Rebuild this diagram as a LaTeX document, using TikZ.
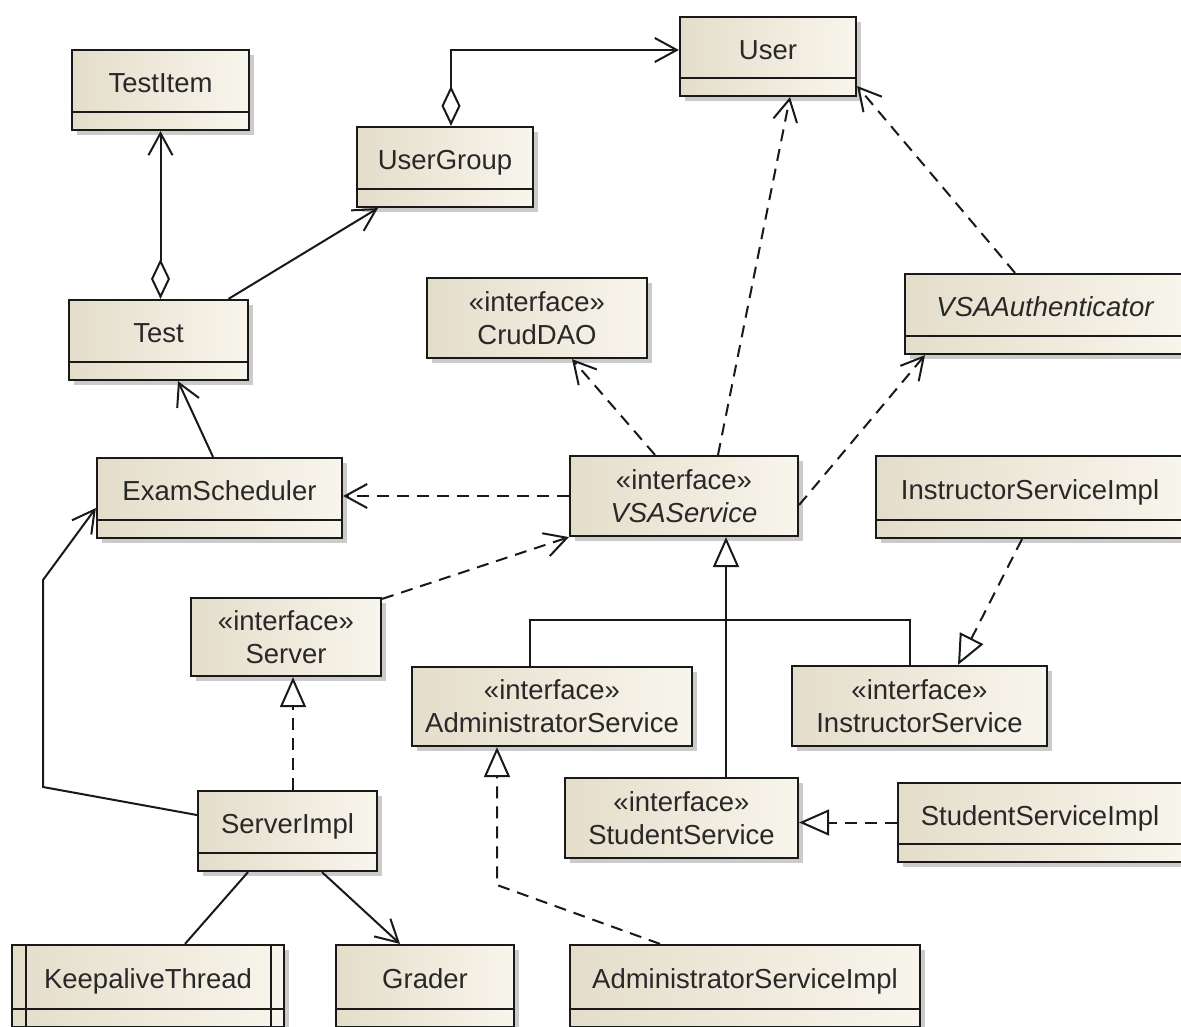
\documentclass[tikz,border=0pt]{standalone}
\usepackage{fontspec}
\setmainfont{Liberation Sans}
\usetikzlibrary{arrows.meta,shadows,calc}
\definecolor{clsL}{RGB}{228,221,202}
\definecolor{clsR}{RGB}{248,245,236}
\definecolor{ink}{RGB}{25,25,25}
\definecolor{txt}{RGB}{40,40,40}
\tikzset{
  cls/.style={draw=ink, line width=2.2pt, left color=clsL, right color=clsR,
    drop shadow={shadow xshift=5pt, shadow yshift=-5pt, fill=black!45, opacity=0.45},
    inner sep=0pt, text=txt, font=\fontsize{27.5pt}{33pt}\selectfont, align=center},
  cmp/.style={cls, text height=22pt, text depth=17pt},
  sepline/.style={draw=ink, line width=2.2pt},
  conn/.style={draw=ink, line width=2pt},
  assoc/.style={conn, -{Straight Barb[length=22pt,width=24pt]}},
  dep/.style={assoc, dash pattern=on 12pt off 8pt},
  aggr/.style={conn, {Diamond[length=40pt,width=19pt,fill=white]}-{Straight Barb[length=22pt,width=24pt]}},
  gen/.style={conn, -{Triangle[length=30pt,width=26pt,fill=white]}},
  real/.style={gen, dash pattern=on 12pt off 8pt},
}
\begin{document}
\begin{tikzpicture}[x=1pt,y=-1pt]
\fill[white] (0,0) rectangle (1181,1026);
\path[use as bounding box] (0,0) rectangle (1181,1026);
\clip (0,0) rectangle (1181,1026);

% classes
\node[cmp, minimum width=176pt, minimum height=79pt] (user) at (768,56.5) {User};
\node[cmp, minimum width=177pt, minimum height=80pt] (testitem) at (160.5,90) {TestItem};
\node[cmp, minimum width=176pt, minimum height=80pt] (ug) at (445,167) {UserGroup};
\node[cmp, minimum width=179pt, minimum height=80pt] (test) at (158.5,340) {Test};
\node[cls, minimum width=220pt, minimum height=80pt] (crud) at (537,318) {«interface»\\CrudDAO};
\node[cmp, minimum width=280pt, minimum height=80pt] (auth) at (1045,314) {\itshape VSAAuthenticator};
\node[cmp, minimum width=245pt, minimum height=80pt] (es) at (219.5,498) {ExamScheduler};
\node[cls, minimum width=228pt, minimum height=80pt] (vsa) at (684,496) {«interface»\\\itshape VSAService};
\node[cmp, minimum width=308pt, minimum height=82pt] (isi) at (1030,497) {InstructorServiceImpl};
\node[cls, minimum width=190pt, minimum height=78pt] (server) at (286,637) {«interface»\\Server};
\node[cls, minimum width=280pt, minimum height=79pt] (adm) at (552,706.5) {«interface»\\AdministratorService};
\node[cls, minimum width=255pt, minimum height=80pt] (inst) at (919.5,706) {«interface»\\InstructorService};
\node[cls, minimum width=233pt, minimum height=80pt] (ss) at (681.5,818) {«interface»\\StudentService};
\node[cmp, minimum width=284pt, minimum height=79pt] (ssi) at (1040,822.5) {StudentServiceImpl};
\node[cmp, minimum width=179pt, minimum height=80pt] (si) at (287.5,831) {ServerImpl};
\node[cmp, minimum width=272pt, minimum height=82pt] (kt) at (148,986) {KeepaliveThread};
\node[cmp, minimum width=178pt, minimum height=82pt] (grader) at (425,986) {Grader};
\node[cmp, minimum width=350pt, minimum height=82pt] (asi) at (745,986) {AdministratorServiceImpl};

% compartment separators
\foreach \n in {user,testitem,ug,test,auth,es,isi,ssi,si,kt,grader,asi}
  \draw[sepline] ([yshift=19pt]\n.south west) -- ([yshift=19pt]\n.south east);
% active class side bars
\draw[sepline] ([xshift=15pt]kt.north west) -- ([xshift=15pt]kt.south west);
\draw[sepline] ([xshift=-14pt]kt.north east) -- ([xshift=-14pt]kt.south east);

% connectors
\draw[aggr] ([xshift=6pt]ug.north) |- ([yshift=6.5pt]user.west);
\draw[aggr] (testitem.south |- test.north) -- (testitem.south);
\draw[assoc] ([xshift=70pt]test.north) -- ([xshift=-67pt]ug.south);
\draw[assoc] ([xshift=-6.5pt]es.north) -- ([xshift=19.5pt]test.south);
\draw[dep] (vsa.west) -- (es.east |- vsa.west);
\draw[dep] ([xshift=-29pt]vsa.north) -- ([xshift=35pt]crud.south);
\draw[dep] ([xshift=34pt]vsa.north) -- ([xshift=22pt]user.south);
\draw[dep] ([yshift=-9pt]vsa.east) -- ([xshift=-120pt]auth.south);
\draw[dep] ([xshift=-30pt]auth.north) -- ([yshift=-29.5pt]user.east);
\draw[dep] ([yshift=-2pt]server.north east) -- (vsa.south west);
\draw[real] ([xshift=5.5pt]si.north) -- ([xshift=7pt]server.south);

\coordinate (l1) at (43,787);
\coordinate (l2) at (43,580);
\draw[assoc] ([yshift=16pt]si.west) -- (l1) -- (l2) -- ([yshift=-10pt]es.west);

\coordinate (bus) at (726,620);
\draw[conn] ([xshift=-22pt]adm.north) |- (bus) -| ([xshift=-9.5pt]inst.north);
\draw[gen] ([xshift=44.5pt]ss.north) -- ([xshift=42pt]vsa.south);
\draw[real] ([xshift=-8pt]isi.south) -- ([xshift=38.5pt]inst.north);
\draw[real] (ssi.west) -- (ss.east |- ssi.west);
\coordinate (p1) at (497,885);
\draw[real] ([xshift=-85pt]asi.north) -- (p1) -- ([xshift=-55pt]adm.south);

\draw[conn] ([xshift=-39.5pt]si.south) -- ([xshift=37pt]kt.north);
\draw[assoc] ([xshift=34.5pt]si.south) -- ([xshift=-25pt]grader.north);
\end{tikzpicture}
\end{document}
